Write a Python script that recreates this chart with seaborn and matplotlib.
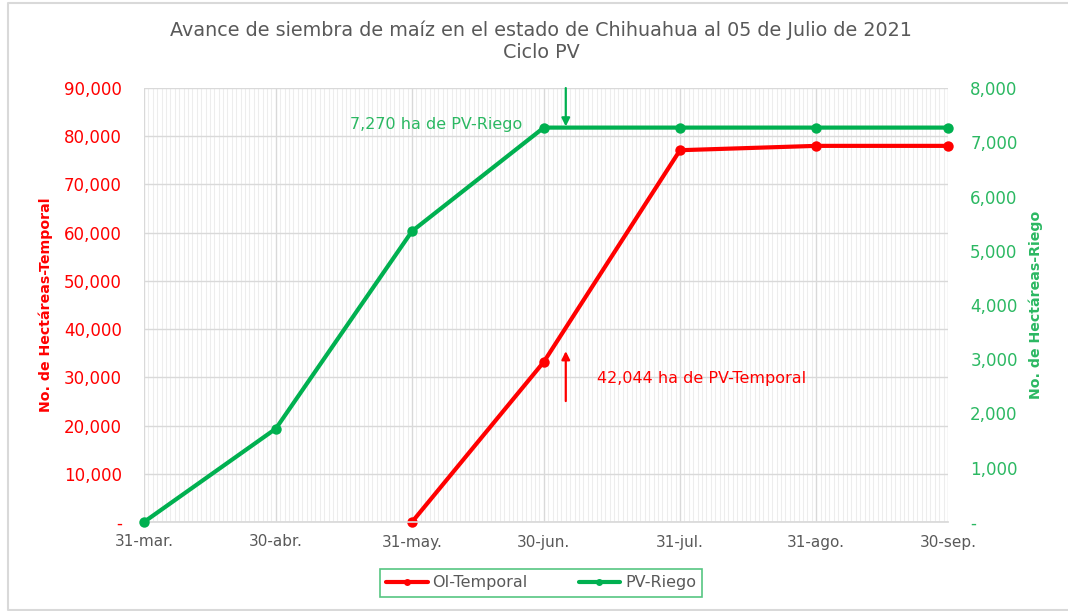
import pandas as pd
import numpy as np
import matplotlib
matplotlib.use("Agg")
import matplotlib.pyplot as plt
import matplotlib.dates as mdates
from matplotlib.ticker import FuncFormatter, FixedLocator
from matplotlib.lines import Line2D
import seaborn as sns

sns.set_theme(style="white")
plt.rcParams['font.family'] = ['DejaVu Sans']

# fechas de corte (fin de mes)
fechas = ["2021-03-31", "2021-04-30", "2021-05-31", "2021-06-30",
          "2021-07-31", "2021-08-31", "2021-09-30"]
etiquetas_x = ["31-mar.", "30-abr.", "31-may.", "30-jun.", "31-jul.", "31-ago.", "30-sep."]

# hectáreas sembradas
temporal = [np.nan, np.nan, 0, 33200, 77100, 78000, 78000]
riego = [0, 1720, 5360, 7270, 7270, 7270, 7270]

fecha_corte = "2021-07-05"
txt_riego = "7,270 ha de PV-Riego"
txt_temporal = "42,044 ha de PV-Temporal"

ROJO = '#FF0000'
VERDE = '#00B050'
VERDE_TXT = '#2BB862'
GRIS = '#595959'

df = pd.DataFrame({'fecha': pd.to_datetime(fechas), 'temporal': temporal, 'riego': riego})
df_t = df.dropna(subset=['temporal'])

fig = plt.figure(figsize=(10.68, 6.11), dpi=100)
ax = fig.add_axes([144/1068, 1-522/611, (948-144)/1068, (522-88)/611])
ax2 = ax.twinx()

sns.lineplot(data=df_t, x='fecha', y='temporal', ax=ax, color=ROJO, lw=3.0,
             marker='o', markersize=7.5, markeredgewidth=0)
sns.lineplot(data=df, x='fecha', y='riego', ax=ax2, color=VERDE, lw=3.0,
             marker='o', markersize=7.5, markeredgewidth=0)
for l in ax.lines + ax2.lines:
    l.set_clip_on(False)

x0, x1 = pd.Timestamp(fechas[0]), pd.Timestamp(fechas[-1])
ax.set_xlim(x0, x1)
ax.set_ylim(0, 90000)
ax2.set_ylim(0, 8000)
ax.set_yticks(np.arange(0, 90001, 10000))
ax2.set_yticks(np.arange(0, 8001, 1000))
fmt = FuncFormatter(lambda v, p: '-' if v == 0 else f'{v:,.0f}')
ax.yaxis.set_major_formatter(fmt)
ax2.yaxis.set_major_formatter(fmt)

ax.xaxis.set_major_locator(FixedLocator(mdates.date2num(pd.to_datetime(fechas))))
ax.set_xticklabels(etiquetas_x)
ax.xaxis.set_minor_locator(mdates.DayLocator())

# rejilla
ax.grid(which='major', axis='both', color='#D9D9D9', lw=1.0)
ax.grid(which='minor', axis='x', color='#EDEDED', lw=0.8)
ax.set_axisbelow(True)

for a in (ax, ax2):
    for s in a.spines.values():
        s.set_visible(False)
ax.spines['bottom'].set_visible(True)
ax.spines['bottom'].set_color('#D9D9D9')

ax.tick_params(axis='x', which='major', colors='#D9D9D9', length=5, width=1,
               labelcolor=GRIS, labelsize=11, pad=4)
ax.tick_params(axis='x', which='minor', length=0)
ax.tick_params(axis='y', length=0, labelcolor=ROJO, labelsize=12, pad=16)
ax2.tick_params(axis='y', length=0, labelcolor=VERDE_TXT, labelsize=12, pad=16)

ax.set_xlabel('')
ax.set_ylabel('No. de Hectáreas-Temporal', color=ROJO, fontsize=10.2, fontweight='bold', labelpad=8)
ax2.set_ylabel('No. de Hectáreas-Riego', color=VERDE_TXT, fontsize=10.2, fontweight='bold', labelpad=8)

fig.text(541/1068, 1-30/611, 'Avance de siembra de maíz en el estado de Chihuahua al 05 de Julio de 2021',
         ha='center', va='center', fontsize=13.8, color=GRIS)
fig.text(541/1068, 1-53/611, 'Ciclo PV', ha='center', va='center', fontsize=13.8, color=GRIS)

# anotaciones
xc = mdates.date2num(pd.Timestamp(fecha_corte))
ax2.annotate('', xy=(xc, 7240), xytext=(xc, 8050),
             arrowprops=dict(arrowstyle='-|>', color=VERDE, lw=1.6, mutation_scale=12), annotation_clip=False)
ax2.text(mdates.date2num(pd.Timestamp('2021-06-25')), 7330, txt_riego, color=VERDE_TXT,
         fontsize=11.5, ha='right', va='center')
ax.annotate('', xy=(xc, 36000), xytext=(xc, 24500),
            arrowprops=dict(arrowstyle='-|>', color=ROJO, lw=1.6, mutation_scale=12))
ax.text(mdates.date2num(pd.Timestamp('2021-07-12')), 29800, txt_temporal, color=ROJO,
        fontsize=11.5, ha='left', va='center')

# leyenda
handles = [Line2D([], [], color=ROJO, lw=3.0, marker='o', markersize=5, markeredgewidth=0),
           Line2D([], [], color=VERDE, lw=3.0, marker='o', markersize=5, markeredgewidth=0)]
leg = fig.legend(handles, ['OI-Temporal', 'PV-Riego'], loc='center', ncol=2,
                 bbox_to_anchor=(541/1068, 1-583/611), frameon=True, fancybox=False,
                 fontsize=11.5, handlelength=2.6, columnspacing=3.2, borderpad=0.4,
                 handletextpad=0.3)
leg.get_frame().set_edgecolor('#2BB862')
leg.get_frame().set_linewidth(1.2)
for t in leg.get_texts():
    t.set_color(GRIS)

# marco exterior (izquierda, arriba, abajo)
bx, by0, by1 = 8/1068, 1/611, 1-3/611
fig.add_artist(Line2D([1, bx, bx, 1], [by1, by1, by0, by0], transform=fig.transFigure,
                      color='#D9D9D9', lw=1.5))

fig.savefig('out.png', dpi=100)
